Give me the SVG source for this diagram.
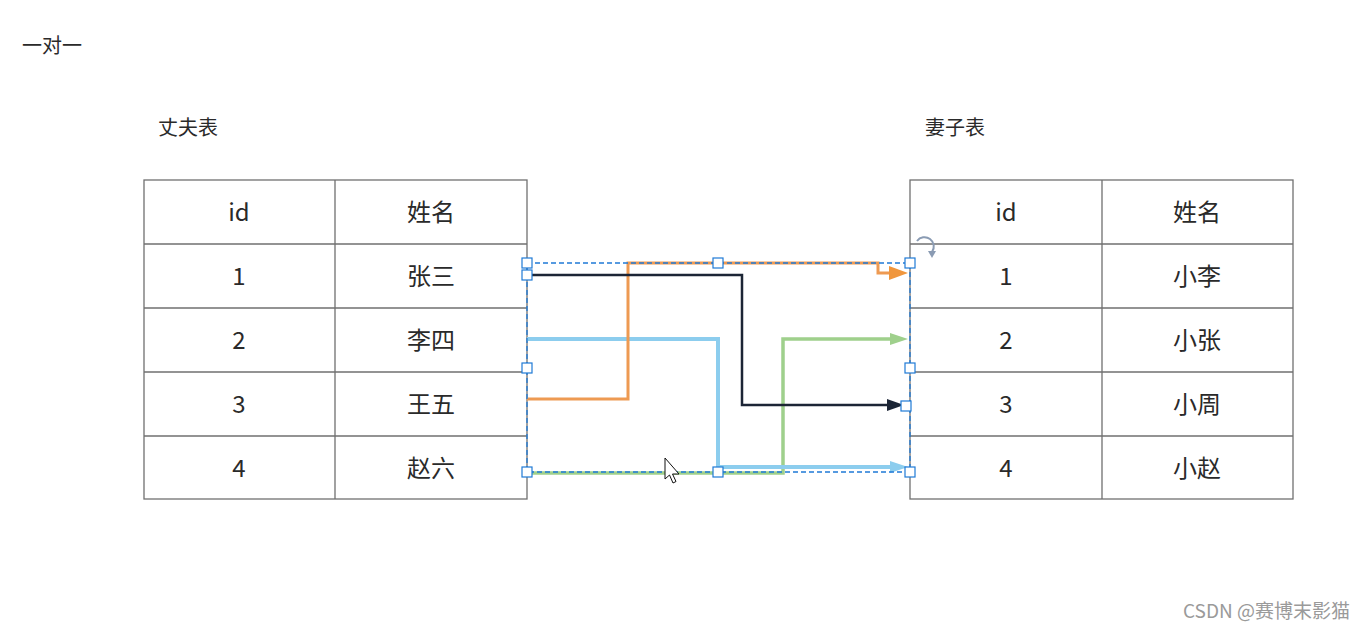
<svg xmlns="http://www.w3.org/2000/svg" width="1372" height="631" viewBox="0 0 1372 631">
<style>
.t{font-family:"Noto Sans CJK SC","Liberation Sans",sans-serif;fill:#2a2a2a}
.cell{font-size:24px;text-anchor:middle;dominant-baseline:central}
.lbl{font-size:20px}
.grid{fill:none;stroke:#707070;stroke-width:1.3}
.c{fill:none;stroke-linejoin:miter}
.h{fill:#fff;stroke:#1f7ad6;stroke-width:1.2}
</style>
<rect width="1372" height="631" fill="#fff"/>
<text class="t lbl" x="22" y="53">一对一</text>
<text class="t lbl" x="158" y="135">丈夫表</text>
<text class="t lbl" x="925" y="135">妻子表</text>
<g id="husband">
<rect class="grid" x="144" y="180" width="383" height="319"/>
<path class="grid" d="M335,180V499M144,244H527M144,308H527M144,372H527M144,436H527"/>
<text class="t cell" x="239" y="210">id</text><text class="t cell" x="431" y="210">姓名</text>
<text class="t cell" x="239" y="274">1</text><text class="t cell" x="431" y="274">张三</text>
<text class="t cell" x="239" y="338">2</text><text class="t cell" x="431" y="338">李四</text>
<text class="t cell" x="239" y="402">3</text><text class="t cell" x="431" y="402">王五</text>
<text class="t cell" x="239" y="466">4</text><text class="t cell" x="431" y="466">赵六</text>
</g>
<g id="wife">
<rect class="grid" x="910" y="180" width="383" height="319"/>
<path class="grid" d="M1102,180V499M910,244H1293M910,308H1293M910,372H1293M910,436H1293"/>
<text class="t cell" x="1006" y="210">id</text><text class="t cell" x="1197" y="210">姓名</text>
<text class="t cell" x="1006" y="274">1</text><text class="t cell" x="1197" y="274">小李</text>
<text class="t cell" x="1006" y="338">2</text><text class="t cell" x="1197" y="338">小张</text>
<text class="t cell" x="1006" y="402">3</text><text class="t cell" x="1197" y="402">小周</text>
<text class="t cell" x="1006" y="466">4</text><text class="t cell" x="1197" y="466">小赵</text>
</g>
<g id="connectors">
<path class="c" d="M527,473H783V339H890" stroke="#9fd08c" stroke-width="3.5"/>
<path d="M890,333L908,339L890,345z" fill="#9fd08c"/>
<path class="c" d="M527,339H718V467H890" stroke="#8ccdee" stroke-width="4"/>
<path d="M890,461L908,467L890,473z" fill="#8ccdee"/>
<path class="c" d="M527,399H628V263H878V273H890" stroke="#ee9a52" stroke-width="3"/>
<path d="M889,266L908,273L889,280z" fill="#f0963c"/>
<path class="c" d="M527,275H742V405H888" stroke="#1c2535" stroke-width="2.5"/>
<path d="M887,399L904,405L887,411z" fill="#1c2535"/>
</g>
<g id="selection">
<rect x="527" y="263" width="383" height="209" fill="none" stroke="#1f7ad6" stroke-width="1.3" stroke-dasharray="5,3"/>
<rect class="h" x="522" y="258" width="10" height="10"/>
<rect class="h" x="713" y="258" width="10" height="10"/>
<rect class="h" x="905" y="258" width="10" height="10"/>
<rect class="h" x="522" y="270" width="10" height="10"/>
<rect class="h" x="522" y="363" width="10" height="10"/>
<rect class="h" x="905" y="363" width="10" height="10"/>
<rect class="h" x="901" y="401" width="10" height="10"/>
<rect class="h" x="522" y="467" width="10" height="10"/>
<rect class="h" x="713" y="467" width="10" height="10"/>
<rect class="h" x="905" y="467" width="10" height="10"/>
<path d="M917,241A9,9 0 0 1 932,252" fill="none" stroke="#8a9bb3" stroke-width="2"/>
<path d="M928,251L932,258L936,251z" fill="#8a9bb3"/>
</g>
<path d="M665,458V479L669.5,475L673,483L676,481.5L672.5,474H679z" fill="#fff" stroke="#111" stroke-width="1"/>
<text x="1183" y="618" font-family="Noto Sans CJK SC,Liberation Sans,sans-serif" font-size="19" fill="#9a9a9a">CSDN @赛博末影猫</text>
</svg>
